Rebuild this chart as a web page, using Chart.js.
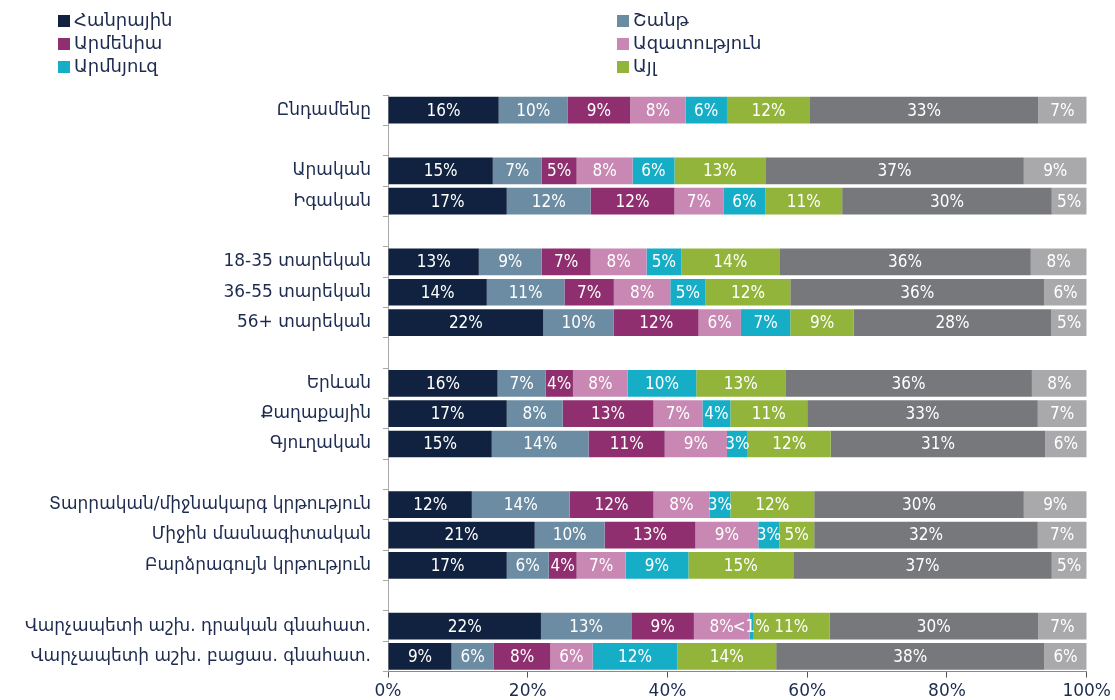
<!DOCTYPE html>
<html>
<head>
<meta charset="utf-8">
<script src="https://cdn.jsdelivr.net/npm/chart.js@4"></script>
<style>
  body { margin: 0; background: #fff; }
  #wrap { position: relative; width: 1115px; height: 700px; }
  #legend { position: absolute; left: 0; top: 0; width: 1115px; height: 90px; }
  .item { position: absolute; font: 18px 'DejaVu Sans', sans-serif; color: #1d2b4f; line-height: 20px; white-space: nowrap; }
  .item span { display: inline-block; width: 12px; height: 12px; margin-right: 4px; vertical-align: -1px; }
</style>
</head>
<body>
<div id="wrap">
  <canvas id="chart" width="1115" height="700"></canvas>
  <div id="legend"></div>
</div>
<script>
const categories = [
    'Ընդամենը', '',
    'Արական', 'Իգական', '',
    '18-35 տարեկան', '36-55 տարեկան', '56+ տարեկան', '',
    'Երևան', 'Քաղաքային', 'Գյուղական', '',
    'Տարրական/միջնակարգ կրթություն', 'Միջին մասնագիտական', 'Բարձրագույն կրթություն', '',
    'Վարչապետի աշխ. դրական գնահատ.', 'Վարչապետի աշխ. բացաս. գնահատ.'
];

const seriesNames = ['Հանրային', 'Շանթ', 'Արմենիա', 'Ազատություն', 'Արմնյուզ', 'Այլ', 'Չգիտեմ', 'Հրաժարվում եմ պատասխանել'];
const seriesColors = ['#10223f', '#6b8ca2', '#8f2f6f', '#c888b3', '#16adc7', '#93b43b', '#77787b', '#a9a9ab'];

// one array per series, null = spacer row
const hanrayin   = [16, null, 15, 17, null, 13, 14, 22, null, 16, 17, 15, null, 12, 21, 17, null, 22, 9];
const shant      = [10, null, 7, 12, null, 9, 11, 10, null, 7, 8, 14, null, 14, 10, 6, null, 13, 6];
const armenia    = [9, null, 5, 12, null, 7, 7, 12, null, 4, 13, 11, null, 12, 13, 4, null, 9, 8];
const azatutyun  = [8, null, 8, 7, null, 8, 8, 6, null, 8, 7, 9, null, 8, 9, 7, null, 8, 6];
const armnews    = [6, null, 6, 6, null, 5, 5, 7, null, 10, 4, 3, null, 3, 3, 9, null, 0.5, 12];
const ayl        = [12, null, 13, 11, null, 14, 12, 9, null, 13, 11, 12, null, 12, 5, 15, null, 11, 14];
const dontKnow   = [33, null, 37, 30, null, 36, 36, 28, null, 36, 33, 31, null, 30, 32, 37, null, 30, 38];
const refused    = [7, null, 9, 5, null, 8, 6, 5, null, 8, 7, 6, null, 9, 7, 5, null, 7, 6];

const seriesValues = [hanrayin, shant, armenia, azatutyun, armnews, ayl, dontKnow, refused];
const xTicks = [0, 20, 40, 60, 80, 100];

// rows are shown as 100% stacks
const rowSums = categories.map((c, i) => seriesValues.reduce((s, arr) => s + (arr[i] || 0), 0));

const datasets = seriesValues.map((arr, k) => ({
    label: seriesNames[k],
    raw: arr,
    data: arr.map((v, i) => v == null ? null : v * 100 / rowSums[i]),
    backgroundColor: seriesColors[k],
    borderWidth: 0,
    barPercentage: 0.88,
    categoryPercentage: 1
}));

// html legend, first six series only
const legendPos = [[58, 10], [617, 10], [58, 33], [617, 33], [58, 56], [617, 56]];
const legendEl = document.getElementById('legend');
[0, 1, 2, 3, 4, 5].forEach((k, j) => {
    const d = document.createElement('div');
    d.className = 'item';
    d.style.left = legendPos[j][0] + 'px';
    d.style.top = legendPos[j][1] + 'px';
    d.innerHTML = '<span style="background:' + seriesColors[k] + '"></span>' + seriesNames[k];
    legendEl.appendChild(d);
});

const barLabels = {
    id: 'barLabels',
    afterDatasetsDraw(chart) {
        const ctx = chart.ctx;
        ctx.save();
        ctx.fillStyle = '#ffffff';
        ctx.font = "17px 'DejaVu Sans Condensed', 'Liberation Sans Narrow', sans-serif";
        if ('fontStretch' in ctx) ctx.fontStretch = 'condensed';
        ctx.textAlign = 'center';
        ctx.textBaseline = 'middle';
        chart.data.datasets.forEach((ds, k) => {
            chart.getDatasetMeta(k).data.forEach((el, i) => {
                const v = ds.raw[i];
                if (v == null) return;
                const p = el.getCenterPoint();
                ctx.fillText(v < 1 ? '<1%' : v + '%', p.x, p.y + 1);
            });
        });
        ctx.restore();
    }
};

new Chart(document.getElementById('chart'), {
    type: 'bar',
    data: { labels: categories, datasets: datasets },
    options: {
        indexAxis: 'y',
        responsive: false,
        animation: false,
        layout: { padding: { top: 95, right: 28, bottom: -6, left: 0 } },
        plugins: {
            legend: { display: false },
            tooltip: { enabled: false }
        },
        scales: {
            x: {
                stacked: true,
                min: 0,
                max: 100,
                afterBuildTicks: (scale) => { scale.ticks = xTicks.map(v => ({ value: v })); },
                ticks: {
                    color: '#1d2b4f',
                    font: { size: 17, family: "'DejaVu Sans', sans-serif" },
                    padding: 4,
                    callback: (v) => v + '%'
                },
                grid: { drawOnChartArea: false, tickLength: 6, color: '#555' },
                border: { display: true, color: '#8a8a8a' }
            },
            y: {
                stacked: true,
                afterFit: (scale) => { scale.width = 388; },
                ticks: {
                    color: '#1d2b4f',
                    font: { size: 17, family: "'DejaVu Sans', sans-serif" },
                    padding: 12
                },
                grid: { drawOnChartArea: false, tickLength: 5, color: '#a8a8a8', offset: true },
                border: { display: true, color: '#a8a8a8' }
            }
        }
    },
    plugins: [barLabels]
});
</script>
</body>
</html>
